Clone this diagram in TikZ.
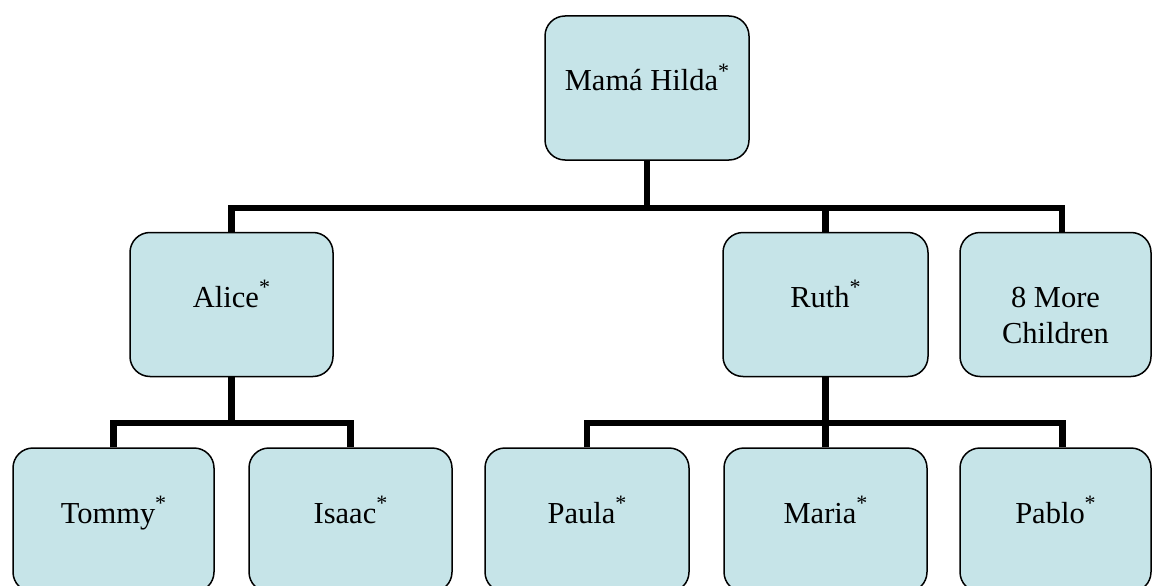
\documentclass[tikz,border=0pt]{standalone}
\usepackage{fontspec}
\setmainfont{Liberation Serif}
\usetikzlibrary{calc}
\definecolor{boxblue}{RGB}{198,228,232}
\newcommand{\sstar}{\raisebox{13pt}{\fontsize{22}{22}\selectfont *}}
\begin{document}
\begin{tikzpicture}[x=1pt,y=-1pt,
  person/.style={draw=black, line width=1.5pt, fill=boxblue, rounded corners=20pt,
    minimum height=144pt, inner sep=0pt, align=center,
    font=\fontsize{30.5}{36}\selectfont},
  oneline/.style={text height=14pt, text depth=8pt},
  conn/.style={line width=6.5pt, draw=black}]
\useasboundingbox (0,0) rectangle (1152,586);
\begin{scope}
\clip (0,0) rectangle (1152,586);
\coordinate (j1) at (647,208);
\coordinate (j2) at (231.5,423);
\coordinate (j3) at (825.5,423);
\node[person, oneline, minimum width=204pt] (hilda) at (647,88) {Mamá Hilda\sstar};
\node[person, oneline, minimum width=203pt] (alice) at (231.5,304.5) {Alice\sstar};
\node[person, oneline, minimum width=205pt] (ruth) at (825.5,304.5) {Ruth\sstar};
\node[person, minimum width=191pt] (more) at (1055.5,304.5) {};
\node[font=\fontsize{30.5}{36}\selectfont, anchor=base, inner sep=0pt] (moretxt) at (1055.5,307) {8 More};
\node[font=\fontsize{30.5}{36}\selectfont, anchor=base, inner sep=0pt] (moretxt2) at (1055.5,343) {Children};
\node[person, oneline, minimum width=201pt] (tommy) at (113.5,520) {Tommy\sstar};
\node[person, oneline, minimum width=203pt] (isaac) at (350.5,520) {Isaac\sstar};
\node[person, oneline, minimum width=204pt] (paula) at (587,520) {Paula\sstar};
\node[person, oneline, minimum width=203pt] (maria) at (825.5,520) {Maria\sstar};
\node[person, oneline, minimum width=191pt] (pablo) at (1055.5,520) {Pablo\sstar};
\draw[conn] (hilda.south) -- (j1);
\draw[conn] (alice.north) |- (j1) -| ([xshift=6.5pt]more.north);
\draw[conn] (ruth.north) -- (ruth.north |- j1);
\draw[conn] (alice.south) -- (j2);
\draw[conn] (tommy.north) |- (j2) -| (isaac.north);
\draw[conn] (ruth.south) -- (j3);
\draw[conn] (paula.north) |- (j3) -| ([xshift=7pt]pablo.north);
\draw[conn] (j3) -- (maria.north);
\end{scope}
\end{tikzpicture}
\end{document}
